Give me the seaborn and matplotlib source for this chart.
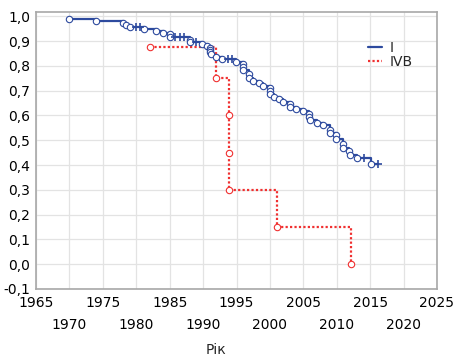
import matplotlib
matplotlib.use('Agg')
import matplotlib.pyplot as plt
import seaborn as sns
import numpy as np
import pandas as pd

# group I: Kaplan-Meier points (year, survival), censored flag
years_I = [1970.0, 1974.0, 1978.0, 1978.5, 1979.0, 1980.0, 1980.6, 1981.1, 1983.0, 1984.0,
           1985.0, 1985.1, 1985.8, 1986.5, 1987.2, 1988.0, 1988.1, 1989.0, 1989.9, 1990.6,
           1991.0, 1991.0, 1991.0, 1991.2, 1992.0, 1992.8, 1993.8, 1994.3, 1994.9, 1995.9,
           1995.9, 1995.9, 1996.8, 1996.8, 1997.5, 1998.3, 1999.0, 2000.0, 2000.0, 2000.0,
           2000.6, 2001.3, 2002.0, 2003.0, 2003.0, 2003.9, 2004.9, 2005.9, 2005.9, 2006.0,
           2007.0, 2007.9, 2009.0, 2009.0, 2009.9, 2009.9, 2011.0, 2011.0, 2011.9, 2012.0,
           2013.1, 2014.1, 2015.1, 2016.1]
surv_I = [0.990, 0.983, 0.974, 0.966, 0.958, 0.958, 0.958, 0.949, 0.941, 0.934,
          0.928, 0.917, 0.917, 0.917, 0.917, 0.906, 0.895, 0.895, 0.887, 0.881,
          0.874, 0.866, 0.857, 0.848, 0.838, 0.829, 0.829, 0.829, 0.816, 0.806,
          0.795, 0.784, 0.766, 0.750, 0.740, 0.730, 0.720, 0.712, 0.700, 0.688,
          0.676, 0.666, 0.655, 0.646, 0.634, 0.627, 0.620, 0.607, 0.594, 0.582,
          0.568, 0.560, 0.540, 0.531, 0.520, 0.505, 0.486, 0.470, 0.455, 0.441,
          0.427, 0.427, 0.403, 0.403]
cens_I = [0, 0, 0, 0, 0, 1, 1, 0, 0, 0,
          0, 0, 1, 1, 1, 0, 0, 1, 0, 0,
          0, 0, 0, 0, 0, 0, 1, 1, 0, 0,
          0, 0, 0, 0, 0, 0, 0, 0, 0, 0,
          0, 0, 0, 0, 0, 0, 0, 0, 0, 0,
          0, 0, 0, 0, 0, 0, 0, 0, 0, 0,
          0, 1, 0, 1]

# group IVB
years_IVB = [1982.0, 1992.0, 1993.9, 1993.9, 1993.9, 2001.0, 2012.1]
surv_IVB = [0.875, 0.75, 0.6, 0.45, 0.3, 0.15, 0.0]

x_ticks = list(range(1965, 2030, 5))
y_ticks = [round(-0.1 + 0.1 * i, 1) for i in range(12)]

blue = '#2d4a9e'
red = '#f03030'

df_I = pd.DataFrame({'year': years_I, 'surv': surv_I, 'cens': cens_I})
df_IVB = pd.DataFrame({'year': years_IVB, 'surv': surv_IVB})

sns.set_style('whitegrid')
plt.rcParams['font.family'] = ['DejaVu Sans']

fig = plt.figure(figsize=(4.59, 3.56), dpi=100)
ax = fig.add_axes([36 / 459, 1 - 288.8 / 356, 401 / 459, 277.3 / 356])

sns.lineplot(data=df_I, x='year', y='surv', estimator=None, sort=False, ax=ax,
             color=blue, lw=1.6, drawstyle='steps-post', label='I')
sns.lineplot(data=df_IVB, x='year', y='surv', estimator=None, sort=False, ax=ax,
             color=red, lw=1.6, ls=(0, (1, 1)), drawstyle='steps-post', label='IVB')

ev = df_I[df_I['cens'] == 0]
ce = df_I[df_I['cens'] == 1]
ax.plot(ev['year'], ev['surv'], 'o', ms=4.6, mfc='white', mec=blue, mew=0.8, zorder=4)
ax.plot(ce['year'], ce['surv'], '+', ms=5.5, color=blue, mew=1.2, zorder=4)
ax.plot(df_IVB['year'], df_IVB['surv'], 'o', ms=4.6, mfc='white', mec=red, mew=0.8, zorder=4)

ax.set_xlim(1965, 2025)
ax.set_ylim(-0.1, 1.02)
ax.set_yticks(y_ticks)
ax.set_yticklabels([f'{v:.1f}'.replace('.', ',') for v in y_ticks])

# staggered year labels: odd ones on the first row, even on the second
ax.set_xticks(x_ticks[0::2], labels=[str(v) for v in x_ticks[0::2]])
ax.set_xticks(x_ticks[1::2], labels=[str(v) for v in x_ticks[1::2]], minor=True)
ax.tick_params(axis='both', which='both', length=0, labelsize=10, colors='black')
ax.tick_params(axis='x', which='major', pad=5)
ax.tick_params(axis='x', which='minor', pad=21)
ax.tick_params(axis='y', pad=4)

ax.grid(True, which='both', color='#e3e3e3', lw=0.9)
for s in ax.spines.values():
    s.set_color('#a8a8a8')
    s.set_linewidth(1.2)

ax.set_xlabel('Рік', fontsize=10)
ax.set_ylabel('')
ax.xaxis.set_label_coords(0.45, -0.195)

ax.legend(loc='upper left', bbox_to_anchor=(0.81, 0.92), frameon=False, fontsize=10,
          handlelength=1.0, handletextpad=0.6, labelspacing=0.0, borderpad=0)

fig.savefig('out.png', dpi=100)
